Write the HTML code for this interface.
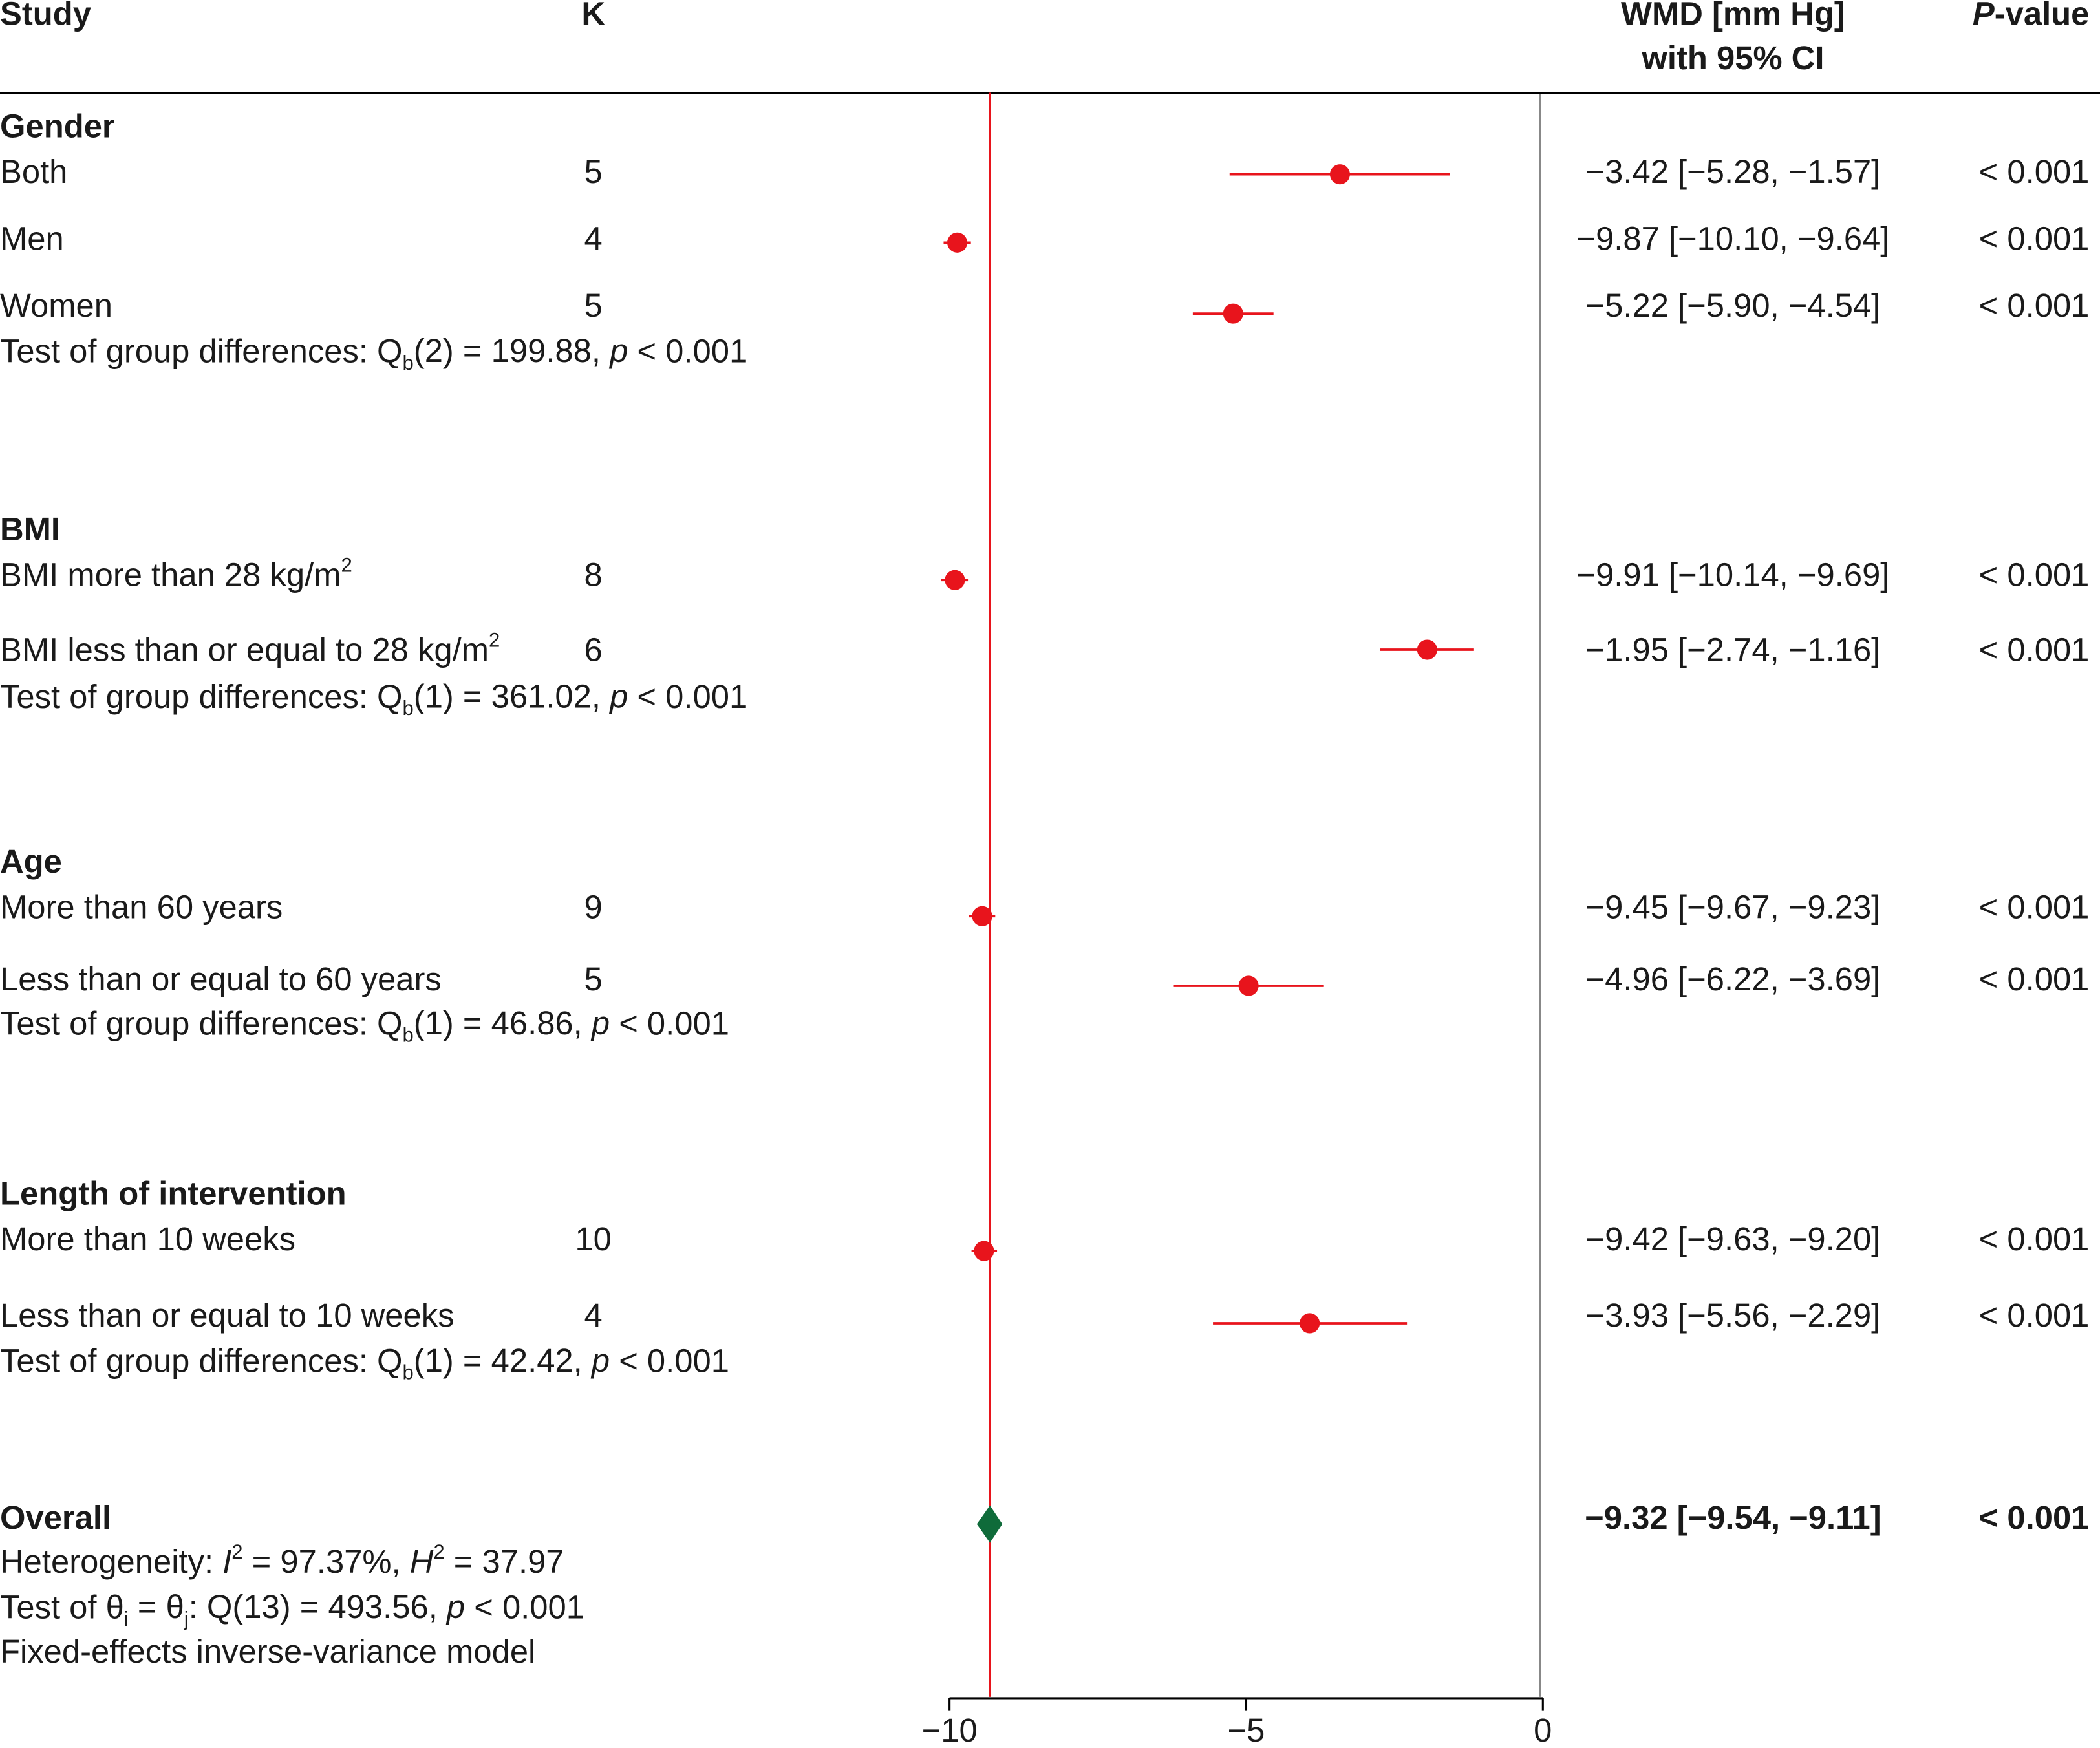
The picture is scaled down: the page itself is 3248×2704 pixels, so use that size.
<!DOCTYPE html>
<html><head><meta charset="utf-8"><style>
html,body{margin:0;padding:0;background:#fff;}
svg{display:block;}
text{font-family:"Liberation Sans",sans-serif;font-size:24.5px;fill:#1a1a1a;dominant-baseline:middle;}
.b{font-weight:bold;}
</style></head><body>
<svg id="chart" width="3248" height="2704" viewBox="0 0 1568 1305" xmlns="http://www.w3.org/2000/svg">
<g id="static">
<text x="0" y="12" class="b">Study</text>
<text x="443" y="12" class="b" text-anchor="middle">K</text>
<text x="1294" y="12" class="b" text-anchor="middle">WMD [mm Hg]</text>
<text x="1294" y="45" class="b" text-anchor="middle">with 95% CI</text>
<text x="1560" y="12" class="b" text-anchor="end"><tspan font-style="italic">P</tspan>-value</text>
<line x1="0" y1="69.5" x2="1568" y2="69.5" stroke="#000" stroke-width="1.5"/>
<line x1="1150" y1="70" x2="1150" y2="1267" stroke="#888" stroke-width="1.5"/>

<text x="0" y="96" class="b">Gender</text>
<text x="0" y="264">Test of group differences: Q<tspan font-size="15" dy="8">b</tspan><tspan dy="-8">(2) = 199.88, </tspan><tspan font-style="italic">p</tspan> &lt; 0.001</text>
<text x="0" y="397" class="b">BMI</text>
<text x="0" y="522">Test of group differences: Q<tspan font-size="15" dy="8">b</tspan><tspan dy="-8">(1) = 361.02, </tspan><tspan font-style="italic">p</tspan> &lt; 0.001</text>
<text x="0" y="645" class="b">Age</text>
<text x="0" y="766">Test of group differences: Q<tspan font-size="15" dy="8">b</tspan><tspan dy="-8">(1) = 46.86, </tspan><tspan font-style="italic">p</tspan> &lt; 0.001</text>
<text x="0" y="893" class="b">Length of intervention</text>
<text x="0" y="1018">Test of group differences: Q<tspan font-size="15" dy="8">b</tspan><tspan dy="-8">(1) = 42.42, </tspan><tspan font-style="italic">p</tspan> &lt; 0.001</text>

<text x="0" y="1135" class="b">Overall</text>
<text x="1294" y="1135" class="b" text-anchor="middle">−9.32 [−9.54, −9.11]</text>
<text x="1560" y="1135" class="b" text-anchor="end">&lt; 0.001</text>
<text x="0" y="1168">Heterogeneity: <tspan font-style="italic">I</tspan><tspan font-size="15" dy="-8">2</tspan><tspan dy="8"> = 97.37%, </tspan><tspan font-style="italic">H</tspan><tspan font-size="15" dy="-8">2</tspan><tspan dy="8"> = 37.97</tspan></text>
<text x="0" y="1202">Test of θ<tspan font-size="15" dy="8">i</tspan><tspan dy="-8"> = θ</tspan><tspan font-size="15" dy="8">j</tspan><tspan dy="-8">: Q(13) = 493.56, </tspan><tspan font-style="italic">p</tspan> &lt; 0.001</text>
<text x="0" y="1235">Fixed-effects inverse-variance model</text>
</g>
<g id="plot"></g>
</svg>
<script>
const rowLabels = ["Both","Men","Women","BMI more than 28 kg/m²","BMI less than or equal to 28 kg/m²","More than 60 years","Less than or equal to 60 years","More than 10 weeks","Less than or equal to 10 weeks"];
const kValues = [5,4,5,8,6,9,5,10,4];
const estimates = [-3.42,-9.87,-5.22,-9.91,-1.95,-9.45,-4.96,-9.42,-3.93];
const lowerCI = [-5.28,-10.10,-5.90,-10.14,-2.74,-9.67,-6.22,-9.63,-5.56];
const upperCI = [-1.57,-9.64,-4.54,-9.69,-1.16,-9.23,-3.69,-9.20,-2.29];
const ciText = ["−3.42 [−5.28, −1.57]","−9.87 [−10.10, −9.64]","−5.22 [−5.90, −4.54]","−9.91 [−10.14, −9.69]","−1.95 [−2.74, −1.16]","−9.45 [−9.67, −9.23]","−4.96 [−6.22, −3.69]","−9.42 [−9.63, −9.20]","−3.93 [−5.56, −2.29]"];
const pText = ["< 0.001","< 0.001","< 0.001","< 0.001","< 0.001","< 0.001","< 0.001","< 0.001","< 0.001"];
const overall = [-9.32,-9.54,-9.11];
const xTicks = [-10,-5,0];
const tickLabels = ["−10","−5","0"];

const rowY = [130,180,230,431,487,679,733,927,984];
const markOffset = [0,1,4,2,-2,5,3,7,4];
const NS = "http://www.w3.org/2000/svg";
const g = document.getElementById('plot');
function x(v){ return 709 + (v + 10) * 44.3; }
function mk(tag, attrs, txt){
  const e = document.createElementNS(NS, tag);
  for (const k in attrs) e.setAttribute(k, attrs[k]);
  if (txt !== undefined) e.textContent = txt;
  g.appendChild(e); return e;
}
rowLabels.forEach((lab,i)=>{
  const y = rowY[i];
  let t;
  if (lab.includes('²')) {
    t = mk('text',{x:0,y:y});
    t.innerHTML = lab.replace('²','') + '<tspan font-size="15" dy="-8">2</tspan>';
  } else t = mk('text',{x:0,y:y},lab);
  
  
  const k = mk('text',{x:443,y:y,'text-anchor':'middle'},kValues[i]);
  
  
  const c = mk('text',{x:1294,y:y,'text-anchor':'middle'},ciText[i]);
  
  
  const p = mk('text',{x:1560,y:y,'text-anchor':'end'},pText[i]);
  
  
  const my = y + markOffset[i];
  const l = mk('line',{x1:x(lowerCI[i]),x2:x(upperCI[i]),y1:my,y2:my,stroke:'#e8141c','stroke-width':1.8});
  
  
  const d = mk('circle',{cx:x(estimates[i]),cy:my,r:7.5,fill:'#e8141c'});
  
  
});
const rl = mk('line',{x1:x(overall[0]),x2:x(overall[0]),y1:69,y2:1267,stroke:'#e8141c','stroke-width':1.8});


const dy = 1138;
const dm = mk('polygon',{points:`${x(overall[1])},${dy} ${x(overall[0])},${dy-14} ${x(overall[2])},${dy} ${x(overall[0])},${dy+14}`,fill:'#0f6b3a'});


const ax = mk('line',{x1:x(xTicks[0]),x2:x(xTicks[xTicks.length-1]),y1:1268,y2:1268,stroke:'#000','stroke-width':1.5});


xTicks.forEach((v,i)=>{
  const tk = mk('line',{x1:x(v),x2:x(v),y1:1268,y2:1277,stroke:'#000','stroke-width':1.5});
  
  
  const tl = mk('text',{x:x(v),y:1294,'text-anchor':'middle'},tickLabels[i]);
  
  
});
</script>
</body></html>
